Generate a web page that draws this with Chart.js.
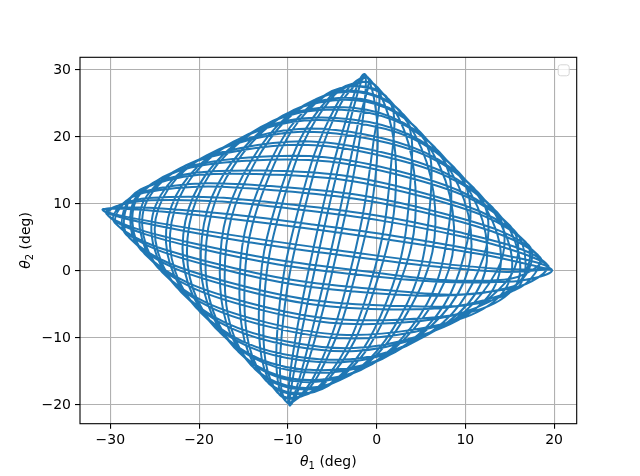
<!DOCTYPE html>
<html>
<head>
<meta charset="utf-8">
<script src="https://cdn.jsdelivr.net/npm/chart.js@4.4.1/dist/chart.umd.min.js"></script>
<style>
  body { margin: 0; background: #ffffff; }
  #wrap { width: 640px; height: 476px; }
</style>
</head>
<body>
<div id="wrap"><canvas id="phasePlot"></canvas></div>
<script>
// theta1 / theta2 trajectory (deg), one sweep per row
const theta1 = [
    19.80, 11.59, -6.65, -24.24, -30.88, -22.67, -4.43, 13.16,
    19.34, 9.74, -8.81, -25.45, -30.42, -20.82, -2.27, 14.37,
    18.44, 7.67, -10.84, -26.24, -29.52, -18.75, -0.24, 15.16,
    17.14, 5.48, -12.63, -26.59, -28.22, -16.56, 1.55, 15.51,
    15.49, 3.27, -14.11, -26.47, -26.57, -14.35, 3.03, 15.39,
    13.58, 1.13, -15.21, -25.90, -24.66, -12.21, 4.13, 14.82,
    11.47, -0.84, -15.90, -24.89, -22.55, -10.24, 4.82, 13.81,
    9.27, -2.56, -16.13, -23.50, -20.35, -8.52, 5.05, 12.42,
    7.07, -3.95, -15.90, -21.78, -18.15, -7.13, 4.82, 10.70,
    4.96, -4.96, -15.21, -19.81, -16.04, -6.12, 4.13, 8.73,
    3.05, -5.53, -14.11, -17.67, -14.13, -5.55, 3.03, 6.59,
    1.40, -5.65, -12.63, -15.46, -12.48, -5.44, 1.55, 4.38,
    0.10, -5.30, -10.84, -13.27, -11.18, -5.78, -0.24, 2.19,
    -0.80, -4.51, -8.81, -11.20, -10.28, -6.57, -2.27, 0.12,
    -1.26, -3.30, -6.65, -9.35, -9.82, -7.78, -4.43, -1.73,
    // second pass, coming back
    -1.31, -2.94, -6.09, -8.92, -9.78, -8.14, -4.99, -2.16,
    -0.96, -4.24, -8.28, -10.71, -10.12, -6.84, -2.80, -0.37,
    -0.17, -5.14, -10.35, -12.74, -10.91, -5.94, -0.73, 1.66,
    1.04, -5.60, -12.20, -14.90, -12.12, -5.48, 1.12, 3.82,
    2.61, -5.60, -13.77, -17.12, -13.69, -5.48, 2.69, 6.04,
    4.46, -5.14, -14.98, -19.28, -15.54, -5.94, 3.90, 8.20,
    6.53, -4.24, -15.77, -21.31, -17.61, -6.84, 4.69, 10.23,
    8.72, -2.94, -16.12, -23.10, -19.80, -8.14, 5.04, 12.02,
    10.93, -1.29, -16.00, -24.58, -22.01, -9.79, 4.92, 13.50,
    13.07, 0.62, -15.43, -25.68, -24.15, -11.70, 4.35, 14.60,
    15.04, 2.73, -14.42, -26.37, -26.12, -13.81, 3.34, 15.29,
    16.76, 4.93, -13.03, -26.60, -27.84, -16.01, 1.95, 15.52,
    18.15, 7.13, -11.31, -26.37, -29.23, -18.21, 0.23, 15.29,
    19.16, 9.24, -9.34, -25.68, -30.24, -20.32, -1.74, 14.60,
    19.73, 11.15, -7.20, -24.58, -30.81, -22.23, -3.88, 13.50,
    19.73
];
const theta2 = [
    0.15, 2.54, 6.17, 8.90, 9.13, 6.74, 3.11, 0.38,
    0.79, 5.11, 9.17, 10.57, 8.49, 4.17, 0.11, -1.29,
    2.03, 7.98, 11.97, 11.67, 7.25, 1.30, -2.69, -2.39,
    3.84, 11.00, 14.45, 12.15, 5.44, -1.72, -5.17, -2.87,
    6.11, 14.06, 16.50, 11.99, 3.17, -4.78, -7.22, -2.71,
    8.77, 17.02, 18.03, 11.20, 0.51, -7.74, -8.75, -1.92,
    11.68, 19.75, 18.98, 9.81, -2.40, -10.47, -9.70, -0.53,
    14.73, 22.14, 19.30, 7.88, -5.45, -12.86, -10.02, 1.40,
    17.78, 24.07, 18.98, 5.49, -8.50, -14.79, -9.70, 3.79,
    20.69, 25.46, 18.03, 2.76, -11.41, -16.18, -8.75, 6.52,
    23.35, 26.25, 16.50, -0.20, -14.07, -16.97, -7.22, 9.48,
    25.62, 26.41, 14.45, -3.26, -16.34, -17.13, -5.17, 12.54,
    27.43, 25.93, 11.97, -6.28, -18.15, -16.65, -2.69, 15.56,
    28.67, 24.83, 9.17, -9.15, -19.39, -15.55, 0.11, 18.43,
    29.31, 23.16, 6.17, -11.72, -20.03, -13.88, 3.11, 21.00,
    // second pass, coming back
    29.37, 22.66, 5.41, -12.30, -20.09, -13.38, 3.87, 21.58,
    28.89, 24.47, 8.43, -9.82, -19.61, -15.19, 0.85, 19.10,
    27.79, 25.71, 11.30, -7.02, -18.51, -16.43, -2.02, 16.30,
    26.12, 26.35, 13.87, -4.02, -16.84, -17.07, -4.59, 13.30,
    23.96, 26.35, 16.03, -0.96, -14.68, -17.07, -6.75, 10.24,
    21.39, 25.71, 17.70, 2.04, -12.11, -16.43, -8.42, 7.24,
    18.52, 24.47, 18.80, 4.84, -9.24, -15.19, -9.52, 4.44,
    15.50, 22.66, 19.28, 7.32, -6.22, -13.38, -10.00, 1.96,
    12.44, 20.39, 19.12, 9.37, -3.16, -11.11, -9.84, -0.09,
    9.48, 17.73, 18.33, 10.90, -0.20, -8.45, -9.05, -1.62,
    6.75, 14.82, 16.94, 11.85, 2.53, -5.54, -7.66, -2.57,
    4.36, 11.77, 15.01, 12.17, 4.92, -2.49, -5.73, -2.89,
    2.43, 8.72, 12.62, 11.85, 6.85, 0.56, -3.34, -2.57,
    1.04, 5.81, 9.89, 10.90, 8.24, 3.47, -0.61, -1.62,
    0.25, 3.15, 6.93, 9.37, 9.03, 6.13, 2.35, -0.09,
    0.25
];

const xTicks = [-30, -20, -10, 0, 10, 20];
const yTicks = [-20, -10, 0, 10, 20, 30];

const BLUE = "#1f77b4";
const GRID = "#b0b0b0";
const FONT = "DejaVu Sans";

function minusSign(v) {
    return String(v).replace("-", "\u2212");
}

// matplotlib-like axis label: italic theta, subscript digit, then " (deg)"
function drawAxisLabel(ctx, x, y, rotate, sub) {
    ctx.save();
    ctx.translate(x, y);
    if (rotate) ctx.rotate(-Math.PI / 2);
    ctx.fillStyle = "#000";
    ctx.textBaseline = "alphabetic";
    ctx.textAlign = "left";

    ctx.font = "italic 14px " + FONT;
    let wTheta = ctx.measureText("\u03b8").width;
    ctx.font = "10px " + FONT;
    let wSub = ctx.measureText(sub).width;
    ctx.font = "14px " + FONT;
    let wRest = ctx.measureText(" (deg)").width;

    let start = -(wTheta + wSub + wRest) / 2;
    let base = 5;
    ctx.font = "italic 14px " + FONT;
    ctx.fillText("\u03b8", start, base);
    ctx.font = "10px " + FONT;
    ctx.fillText(sub, start + wTheta, base + 3);
    ctx.font = "14px " + FONT;
    ctx.fillText(" (deg)", start + wTheta + wSub, base);
    ctx.restore();
}

const framePlugin = {
    id: "frame",
    afterDatasetsDraw(chart) {
        let ctx = chart.ctx;
        let a = chart.chartArea;
        ctx.save();
        ctx.strokeStyle = "#000";
        ctx.lineWidth = 1.1;
        ctx.strokeRect(a.left, a.top, a.right - a.left, a.bottom - a.top);
        ctx.restore();
    },
    afterDraw(chart) {
        let ctx = chart.ctx;
        let a = chart.chartArea;

        // empty legend box in the upper right corner
        ctx.save();
        ctx.fillStyle = "rgba(255,255,255,0.8)";
        ctx.strokeStyle = "#d6d6d6";
        ctx.lineWidth = 1;
        ctx.beginPath();
        ctx.roundRect(a.right - 18.5, a.top + 7.5, 11, 11, 2.5);
        ctx.fill();
        ctx.stroke();
        ctx.restore();

        drawAxisLabel(ctx, (a.left + a.right) / 2, 461, false, "1");
        drawAxisLabel(ctx, 25, (a.top + a.bottom) / 2, true, "2");
    }
};

let points = theta1.map((x, i) => ({ x: x, y: theta2[i] }));

new Chart(document.getElementById("phasePlot"), {
    type: "scatter",
    data: {
        datasets: [{
            data: points,
            showLine: true,
            borderColor: BLUE,
            borderWidth: 2,
            pointRadius: 0,
            tension: 0.4,
            fill: false
        }]
    },
    options: {
        responsive: true,
        maintainAspectRatio: false,
        animation: false,
        events: [],
        layout: {
            padding: { left: 0, top: 57.3, right: 63.3, bottom: 0 }
        },
        plugins: {
            legend: { display: false },
            tooltip: { enabled: false }
        },
        scales: {
            x: {
                type: "linear",
                min: -33.42,
                max: 22.55,
                afterFit: function (scale) { scale.height = 52.3; },
                afterBuildTicks: function (scale) {
                    scale.ticks = xTicks.map(v => ({ value: v }));
                },
                border: { display: false },
                grid: {
                    color: GRID,
                    lineWidth: 1.1,
                    tickColor: "#000",
                    tickLength: 5,
                    tickWidth: 1.1
                },
                ticks: {
                    color: "#000",
                    padding: 3,
                    maxRotation: 0,
                    font: { family: FONT, size: 14 },
                    callback: v => minusSign(v)
                }
            },
            y: {
                type: "linear",
                min: -22.79,
                max: 31.9,
                afterFit: function (scale) { scale.width = 80; },
                afterBuildTicks: function (scale) {
                    scale.ticks = yTicks.map(v => ({ value: v }));
                },
                border: { display: false },
                grid: {
                    color: GRID,
                    lineWidth: 1.1,
                    tickColor: "#000",
                    tickLength: 5,
                    tickWidth: 1.1
                },
                ticks: {
                    color: "#000",
                    padding: 4,
                    font: { family: FONT, size: 14 },
                    callback: v => minusSign(v)
                }
            }
        }
    },
    plugins: [framePlugin]
});
</script>
</body>
</html>
